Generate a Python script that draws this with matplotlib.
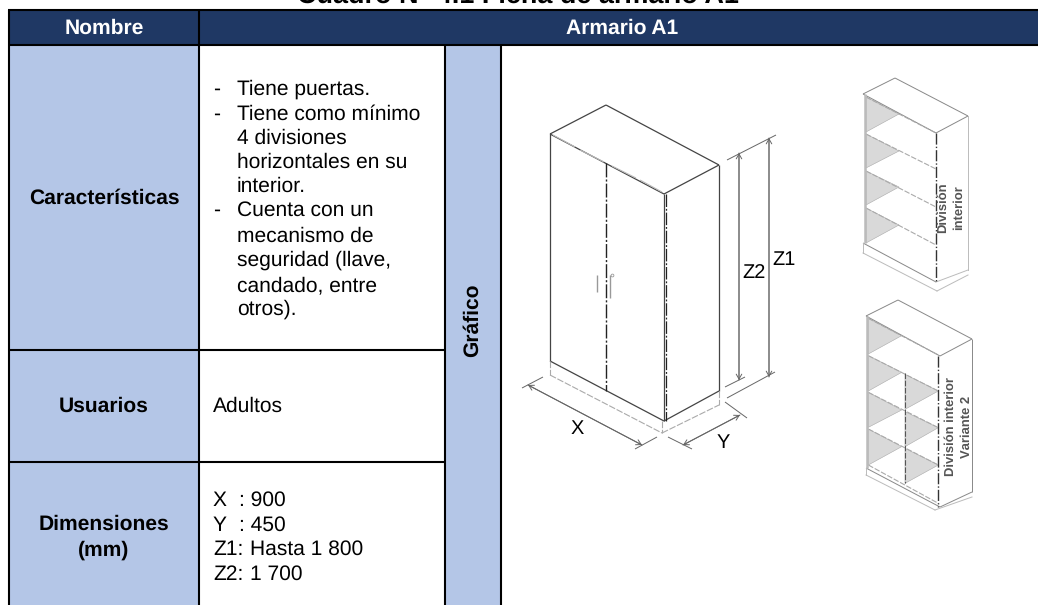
import matplotlib
matplotlib.use("Agg")
import matplotlib.pyplot as plt
from matplotlib.patches import Rectangle, Polygon

W, H = 1038, 605
NAVY = "#1F3864"
BLUE = "#B4C6E7"
plt.rcParams['font.family'] = ['Liberation Sans', 'DejaVu Sans']
plt.rcParams['text.hinting'] = 'no_hinting'
plt.rcParams['text.hinting_factor'] = 1

title = "Cuadro N° 4.1 Ficha de armario A1"
row_labels = [("Características", 197), ("Usuarios", 405), ("Dimensiones", 523), ("(mm)", 549)]
bullets = [("-", "Tiene puertas.", 88), ("-", "Tiene como mínimo", 113), ("", "4 divisiones", 137),
           ("", "horizontales en su", 161), ("", "interior.", 185), ("-", "Cuenta con un", 209),
           ("", "mecanismo de", 235), ("", "seguridad (llave,", 259), ("", "candado, entre", 284),
           ("", "otros).", 308)]
dims = [("X", ": 900"), ("Y", ": 450"), ("Z1:", "Hasta 1 800"), ("Z2:", "1 700")]

fig = plt.figure(figsize=(W / 100, H / 100), dpi=100)
ax = fig.add_axes([0, 0, 1, 1])
ax.set_xlim(0, W)
ax.set_ylim(H, 0)
ax.axis("off")

FS = 15.3
DY = 1.5
# table
ax.add_patch(Rectangle((9, 10), W - 9, 34.5, fc=NAVY, ec="none"))
ax.add_patch(Rectangle((9, 44), 189.5, H - 44, fc=BLUE, ec="none"))
ax.add_patch(Rectangle((445, 44), 56, H - 44, fc=BLUE, ec="none"))
def ln(xs, ys, c="k", lw=1.0, **k):
    ax.plot(xs, ys, color=c, lw=lw, solid_capstyle="butt", **k)
LW = 1.5
ln([8, W], [10, 10], lw=LW)
ln([8, W], [44.5, 44.5], lw=LW)
ln([9.2, 9.2], [10, H], lw=LW)
ln([198.7, 198.7], [10, H], lw=LW)
ln([445, 445], [44, H], lw=LW)
ln([501, 501], [44, H], lw=LW)
ln([9, 445], [350, 350], lw=LW)
ln([9, 445], [462, 462], lw=LW)

ax.text(518, 3, title, ha="center", va="baseline", fontsize=19.4, fontweight="bold", color="k")
ax.text(104, 27 + DY, "Nombre", ha="center", va="center", fontsize=FS, fontweight="bold", color="w")
ax.text(622, 27 + DY, "Armario A1", ha="center", va="center", fontsize=FS, fontweight="bold", color="w")
for lab, y in row_labels:
    ax.text(104, y + DY, lab, ha="center", va="center", fontsize=FS, fontweight="bold")
ax.text(473, 320, "Gráfico", rotation=90, ha="center", va="center", fontsize=FS, fontweight="bold")
for d, t, y in bullets:
    if d:
        ax.text(213, y + DY, d, ha="left", va="center", fontsize=FS)
    ax.text(237, y + DY, t, ha="left", va="center", fontsize=FS)
ax.text(213, 405 + DY, "Adultos", ha="left", va="center", fontsize=FS)
for (a, b), y in zip(dims, [499, 524, 548, 573]):
    ax.text(213, y + DY, a, ha="left", va="center", fontsize=FS)
    ax.text(239 if a in "XY" else 250, y + DY, b, ha="left", va="center", fontsize=FS)

G = "#444444"
# main cabinet
for seg in [((550,134),(606,105)), ((606,105),(719,165)), ((719,165),(664,194)), ((664,194),(550,134)),
            ((550,134),(550,361)), ((550,361),(664,421)), ((664,194),(664,421)), ((664,421),(719,391)),
            ((719,165),(719,391))]:
    ln(*zip(*seg), c=G, lw=0.9)
ln([606,606],[163,391], c="#222222", lw=1.0, ls=(0,(10,1.5,1.5,1.5)))
ln([665.5,665.5],[194,421], c="#222222", lw=0.9, ls=(0,(10,1.5,1.5,1.5)))
L = "#AAAAAA"
for seg in [((550,361),(550,375)), ((550,375),(662,433)), ((662,433),(719,405)), ((719,391),(719,405)), ((662,421),(662,433))]:
    ax.plot(*zip(*seg), color=L, lw=0.8, ls=(0,(6,1.5)))
for seg in [((553,135),(575,147)), ((580,150),(604,162)), ((612,166),(636,178)), ((640,180),(662,192))]:
    ln(*zip(*seg), c="#BBBBBB", lw=0.8)
ln([597,597],[275,292], c="#999999", lw=1.0)
ln([610,610],[275,298], c="#999999", lw=1.0)
ax.plot([611.5],[274.5], "o", ms=2, mfc="w", mec="#999999", mew=0.6)
# dimension lines
D = "#666666"
for a, b in [((528,385),(642,445)), ((683,445),(740,415)), ((769,138),(769,377)), ((739,153),(739,380))]:
    ax.annotate("", xy=a, xytext=b, arrowprops=dict(arrowstyle="->,head_length=0.35,head_width=0.2", color=D, lw=0.7, shrinkA=0, shrinkB=0))
    ax.annotate("", xy=b, xytext=a, arrowprops=dict(arrowstyle="->,head_length=0.35,head_width=0.2", color=D, lw=0.7, shrinkA=0, shrinkB=0))
for seg in [((522,388),(543,377)), ((635,449),(657,437)), ((668,437),(692,449)), ((725,402),(747,418)),
            ((727,160),(776,135)), ((727,398),(775,372)), ((725,387),(745,377))]:
    ln(*zip(*seg), c=D, lw=0.7)
LBL = 14.2
ax.text(754, 271 + DY, "Z2", ha="center", va="center", fontsize=LBL)
ax.text(784, 258 + DY, "Z1", ha="center", va="center", fontsize=LBL)
ax.text(577, 427 + DY, "X", ha="center", va="center", fontsize=LBL)
ax.text(723, 441 + DY, "Y", ha="center", va="center", fontsize=LBL)

GR = "#D9D9D9"
def cab(top, out, plinth, dash_x, tris, shelves):
    for a, b in out:
        ln(*zip(a, b), c="#888888", lw=0.7)
    for a, b in plinth:
        ax.plot(*zip(a, b), color="#BBBBBB", lw=0.7)
    ln([dash_x, dash_x], top, c="#333333", lw=1.0, ls=(0,(8,1.5,1,1.5)))
    for t in tris:
        ax.add_patch(Polygon(t, fc=GR, ec="#AAAAAA", lw=0.4))
    for a, b in shelves:
        ax.plot(*zip(a, b), color="#AAAAAA", lw=0.8, ls=(0,(5,1.5)))

# upper cabinet
cab((133, 282),
    [((863,94),(895,78)), ((895,78),(968,116)), ((968,116),(936,133)), ((936,133),(863,94)),
     ((863,243),(936,282))],
    [((968,116),(968,270)), ((936,282),(968,270)), ((863,243),(863,253)), ((863,253),(937,291)),
     ((937,291),(968,275))],
    936,
    [[(866,97),(899,114),(866,132)], [(866,134),(899,151),(866,168)],
     [(866,171),(899,187),(866,205)], [(866,208),(899,225),(866,243)]],
    [((866,97),(936,133)), ((866,134),(936,169)), ((866,171),(936,207)), ((866,208),(936,245))])
ln([864.5,864.5],[94,243], c="#BBBBBB", lw=1.8)
ax.text(943, 208, "División", rotation=90, ha="center", va="center", fontsize=9.6, fontweight="bold", color="#555555")
ax.text(959, 208, "interior", rotation=90, ha="center", va="center", fontsize=9.6, fontweight="bold", color="#555555")

# lower cabinet
T = lambda x, y: (800 + x / 3, 290 + y / 3)
cab((356, 507),
    [((866,316),(898,300)), ((898,300),(972,339)), ((972,339),(940,356)), ((940,356),(866,316)),
     ((866,468),(940,507)), ((972,339),(972,492)), ((940,507),(972,492))],
    [((866,468),(866,475)), ((866,475),(935,510)), ((935,510),(972,497))],
    938,
    [[T(205,85),T(305,137),T(205,192)], [T(205,197),T(305,247),T(205,303)],
     [T(205,307),T(305,360),T(205,412)], [T(205,417),T(305,470),T(205,525)],
     [T(315,253),T(415,303),T(315,358)], [T(315,365),T(415,413),T(315,470)],
     [T(315,475),T(415,525),T(315,580)]],
    [(T(205,85),T(415,195)), (T(205,197),T(415,303)), (T(205,307),T(415,413)), (T(205,417),T(415,525)),
     (T(205,525),T(415,640))])
ln([866.5,866.5],[316,468], c="#BBBBBB", lw=1.8)
ln([904.5,904.5],[373,483], c="#555555", lw=0.8, ls=(0,(5,1.5)))
ax.text(951, 427, "División interior", rotation=90, ha="center", va="center", fontsize=9.3, fontweight="bold", color="#555555")
ax.text(967, 427, "Variante 2", rotation=90, ha="center", va="center", fontsize=9.3, fontweight="bold", color="#555555")

fig.savefig("out.png", dpi=100)
